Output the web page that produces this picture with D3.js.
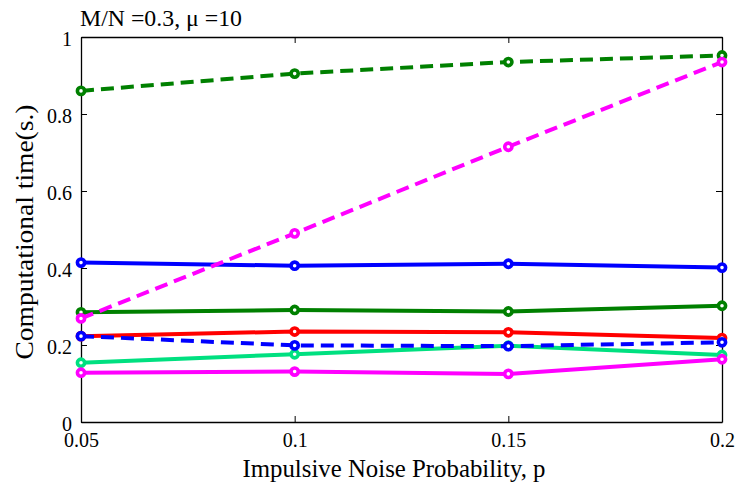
<!DOCTYPE html>
<html>
<head>
<meta charset="utf-8">
<script src="https://cdn.jsdelivr.net/npm/d3@7"></script>
<style>
  body { margin: 0; background: #fff; }
  svg text { font-family: "Liberation Serif", "Times New Roman", serif; }
</style>
</head>
<body>
<svg id="chart" width="742" height="488"></svg>
<script>
// data
const probs = [0.05, 0.1, 0.15, 0.2];
const xTicks = [0.05, 0.1, 0.15, 0.2];
const yTicks = [0, 0.2, 0.4, 0.6, 0.8, 1];

const redSolid = [0.223, 0.235, 0.233, 0.218];
const greenSolid = [0.285, 0.291, 0.287, 0.302];
const blueSolid = [0.414, 0.406, 0.411, 0.401];
const cyanSolid = [0.154, 0.176, 0.198, 0.174];
const magentaSolid = [0.128, 0.131, 0.125, 0.163];
const greenDashed = [0.86, 0.905, 0.935, 0.952];
const blueDashed = [0.223, 0.199, 0.197, 0.207];
const magentaDashed = [0.269, 0.49, 0.715, 0.935];

const series = [
    { values: redSolid, color: '#ff0000', dashed: false },
    { values: greenSolid, color: '#008000', dashed: false },
    { values: blueSolid, color: '#0000ff', dashed: false },
    { values: cyanSolid, color: '#00e080', dashed: false },
    { values: magentaSolid, color: '#ff00ff', dashed: false },
    { values: greenDashed, color: '#008000', dashed: true },
    { values: blueDashed, color: '#0000ff', dashed: true },
    { values: magentaDashed, color: '#ff00ff', dashed: true }
];

const margin = { top: 37, right: 20, bottom: 66, left: 81 };
const width = 742 - margin.left - margin.right;
const height = 488 - margin.top - margin.bottom;

const svg = d3.select('#chart');
const g = svg.append('g')
    .attr('transform', `translate(${margin.left},${margin.top})`);

const x = d3.scaleLinear().domain([0.05, 0.2]).range([0, width]);
const y = d3.scaleLinear().domain([0, 1]).range([height, 0]);

// axes with inward ticks, box style
const fmt = d => String(+d.toFixed(2));
const bottomAxis = g.append('g')
    .attr('transform', `translate(0,${height})`)
    .call(d3.axisBottom(x).tickValues(xTicks).tickFormat(fmt).tickSizeInner(-6).tickSizeOuter(0).tickPadding(11));
const leftAxis = g.append('g')
    .call(d3.axisLeft(y).tickValues(yTicks).tickFormat(fmt).tickSizeInner(-6).tickSizeOuter(0).tickPadding(9));
g.append('g')
    .call(d3.axisTop(x).tickValues(xTicks).tickFormat('').tickSizeInner(-6).tickSizeOuter(0));
g.append('g')
    .attr('transform', `translate(${width},0)`)
    .call(d3.axisRight(y).tickValues(yTicks).tickFormat('').tickSizeInner(-6).tickSizeOuter(0));

svg.selectAll('.domain').attr('stroke', '#000').attr('stroke-width', 1.3);
svg.selectAll('.tick line').attr('stroke', '#000');
svg.selectAll('.tick text')
    .attr('font-size', 20)
    .attr('font-family', null)
    .attr('fill', '#000');
svg.selectAll('g').attr('font-family', null);
bottomAxis.selectAll('.tick text').attr('dy', '0.71em');
leftAxis.selectAll('.tick text').attr('dy', '0.42em');

// lines
const line = d3.line()
    .x((d, i) => x(probs[i]))
    .y(d => y(d));

series.forEach(s => {
    g.append('path')
        .datum(s.values)
        .attr('fill', 'none')
        .attr('stroke', s.color)
        .attr('stroke-width', 4)
        .attr('stroke-dasharray', s.dashed ? '13,7' : null)
        .attr('d', line);

    g.selectAll(null)
        .data(s.values)
        .enter()
        .append('circle')
        .attr('cx', (d, i) => x(probs[i]))
        .attr('cy', d => y(d))
        .attr('r', 3.6)
        .attr('fill', '#fff')
        .attr('stroke', s.color)
        .attr('stroke-width', 3.6);
});

// title and labels
svg.append('text')
    .attr('x', 80)
    .attr('y', 26)
    .attr('font-size', 24)
    .attr('textLength', 162)
    .attr('lengthAdjust', 'spacingAndGlyphs')
    .text('M/N =0.3, \u03bc =10');

svg.append('text')
    .attr('x', 394)
    .attr('y', 477)
    .attr('text-anchor', 'middle')
    .attr('font-size', 25)
    .attr('textLength', 303)
    .attr('lengthAdjust', 'spacingAndGlyphs')
    .text('Impulsive Noise Probability, p');

svg.append('text')
    .attr('transform', 'translate(33,232) rotate(-90)')
    .attr('text-anchor', 'middle')
    .attr('font-size', 26)
    .attr('textLength', 255)
    .attr('lengthAdjust', 'spacingAndGlyphs')
    .text('Computational time(s.)');
</script>
</body>
</html>
